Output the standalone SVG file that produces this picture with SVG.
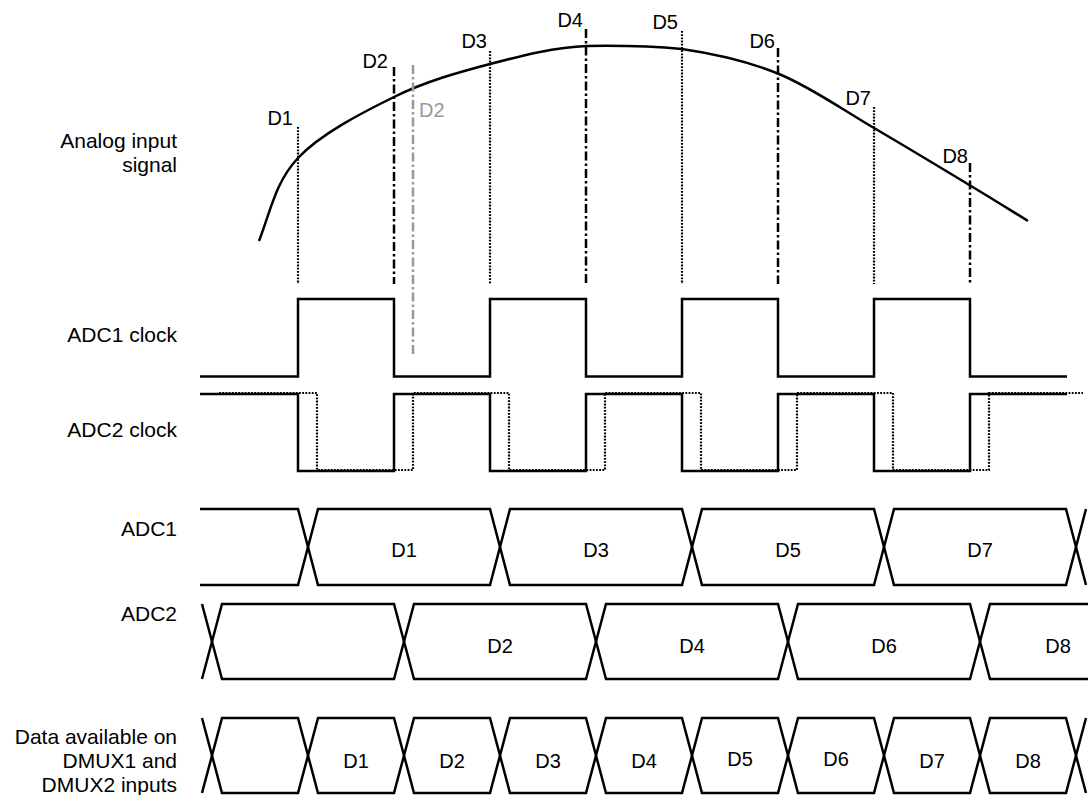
<svg xmlns="http://www.w3.org/2000/svg" width="1088" height="795" viewBox="0 0 1088 795">
<style>
text{font-family:"Liberation Sans",Arial,Helvetica,sans-serif;fill:#000}
.lbl{font-size:21px;text-anchor:end}
.d{font-size:20px}
.c{text-anchor:middle}
.e{text-anchor:end}
.w{fill:none;stroke:#000;stroke-width:2.5;stroke-linejoin:miter;stroke-linecap:butt}
.dot{fill:none;stroke:#000;stroke-width:2.2;stroke-dasharray:1.8 1.4}
.dd{fill:none;stroke:#000;stroke-width:2.5;stroke-dasharray:9 3 2.5 3}
.gdd{fill:none;stroke:#999;stroke-width:2.5;stroke-dasharray:9 3 2.5 3}
</style>
<rect width="1088" height="795" fill="#fff"/>
<g id="labels">
<text class="lbl" x="177" y="148">Analog input</text>
<text class="lbl" x="177" y="172">signal</text>
<text class="lbl" x="177" y="342">ADC1 clock</text>
<text class="lbl" x="177" y="437">ADC2 clock</text>
<text class="lbl" x="177" y="536">ADC1</text>
<text class="lbl" x="177" y="621">ADC2</text>
<text class="lbl" x="177" y="744">Data available on</text>
<text class="lbl" x="177" y="768">DMUX1 and</text>
<text class="lbl" x="177" y="792">DMUX2 inputs</text>
</g>
<g id="analog-signal">
<path class="w" d="M259,241 C271,210 275.5,182 298,158 C320.5,134 362,112.7 394,97 C426,81.3 457.8,72.5 490,64 C522.2,55.5 555,47 587,46 C619,45.5 650,46 682,49 C714,53.7 747,60.8 779,74 C811,87.2 842,109.3 874,128 C906,146.7 945.3,170.5 971,186 C996.7,201.5 1009,209.3 1028,221"/>
<text class="d e" x="293" y="125">D1</text>
<text class="d e" x="388" y="68">D2</text>
<text class="d" x="419" y="117" style="fill:#999">D2</text>
<text class="d e" x="487" y="48">D3</text>
<text class="d e" x="583" y="27">D4</text>
<text class="d e" x="678" y="29">D5</text>
<text class="d e" x="775" y="48">D6</text>
<text class="d e" x="871" y="105">D7</text>
<text class="d e" x="968" y="163">D8</text>
</g>
<g id="connectors">
<line class="dot" x1="298" y1="127" x2="298" y2="284"/>
<line class="dd" x1="394" y1="67" x2="394" y2="284"/>
<line class="gdd" x1="413" y1="65" x2="413" y2="355"/>
<line class="dot" x1="490" y1="51" x2="490" y2="284"/>
<line class="dd" x1="586" y1="29" x2="586" y2="284"/>
<line class="dot" x1="682" y1="31" x2="682" y2="284"/>
<line class="dd" x1="778" y1="48" x2="778" y2="284"/>
<line class="dot" x1="874" y1="107" x2="874" y2="284"/>
<line class="dd" x1="970" y1="163" x2="970" y2="284"/>
</g>
<g id="adc1-clock">
<path class="w" d="M200,376.5 H298 V299 H394 V376.5 H490 V299 H586 V376.5 H682 V299 H778 V376.5 H874 V299 H970 V376.5 H1067"/>
</g>
<g id="adc2-clock">
<path class="w" d="M200,394 H298 V471 H394 V394 H490 V471 H586 V394 H682 V471 H778 V394 H874 V471 H970 V394 H1067"/>
<path class="dot" d="M219,393 H317 V470 H413 V393 H509 V470 H605 V393 H701 V470 H797 V393 H893 V470 H989 V393 H1083"/>
</g>
<g id="adc1-bus">
<path class="w" d="M200,509 H298 L318,585 H490 L510,509 H682 L702,585 H874 L894,509 H1066 L1086,585"/>
<path class="w" d="M200,585 H298 L318,509 H490 L510,585 H682 L702,509 H874 L894,585 H1066 L1086,509"/>
<text class="d c" x="404" y="557">D1</text>
<text class="d c" x="596" y="557">D3</text>
<text class="d c" x="788" y="557">D5</text>
<text class="d c" x="980" y="557">D7</text>
</g>
<g id="adc2-bus">
<path class="w" d="M202,604 L222,679 H394 L414,604 H586 L606,679 H778 L798,604 H970 L990,679 H1088"/>
<path class="w" d="M202,679 L222,604 H394 L414,679 H586 L606,604 H778 L798,679 H970 L990,604 H1088"/>
<text class="d c" x="500" y="653">D2</text>
<text class="d c" x="692" y="653">D4</text>
<text class="d c" x="884" y="653">D6</text>
<text class="d c" x="1058" y="653">D8</text>
</g>
<g id="dmux-data">
<path class="w" d="M202,718 L222,793 H298 L318,718 H394 L414,793 H490 L510,718 H586 L606,793 H682 L702,718 H778 L798,793 H874 L894,718 H970 L990,793 H1066 L1086,718"/>
<path class="w" d="M202,793 L222,718 H298 L318,793 H394 L414,718 H490 L510,793 H586 L606,718 H682 L702,793 H778 L798,718 H874 L894,793 H970 L990,718 H1066 L1086,793"/>
<text class="d c" x="356" y="768">D1</text>
<text class="d c" x="452" y="768">D2</text>
<text class="d c" x="548" y="768">D3</text>
<text class="d c" x="644" y="768">D4</text>
<text class="d c" x="740" y="766">D5</text>
<text class="d c" x="836" y="766">D6</text>
<text class="d c" x="932" y="768">D7</text>
<text class="d c" x="1028" y="768">D8</text>
</g>
</svg>
